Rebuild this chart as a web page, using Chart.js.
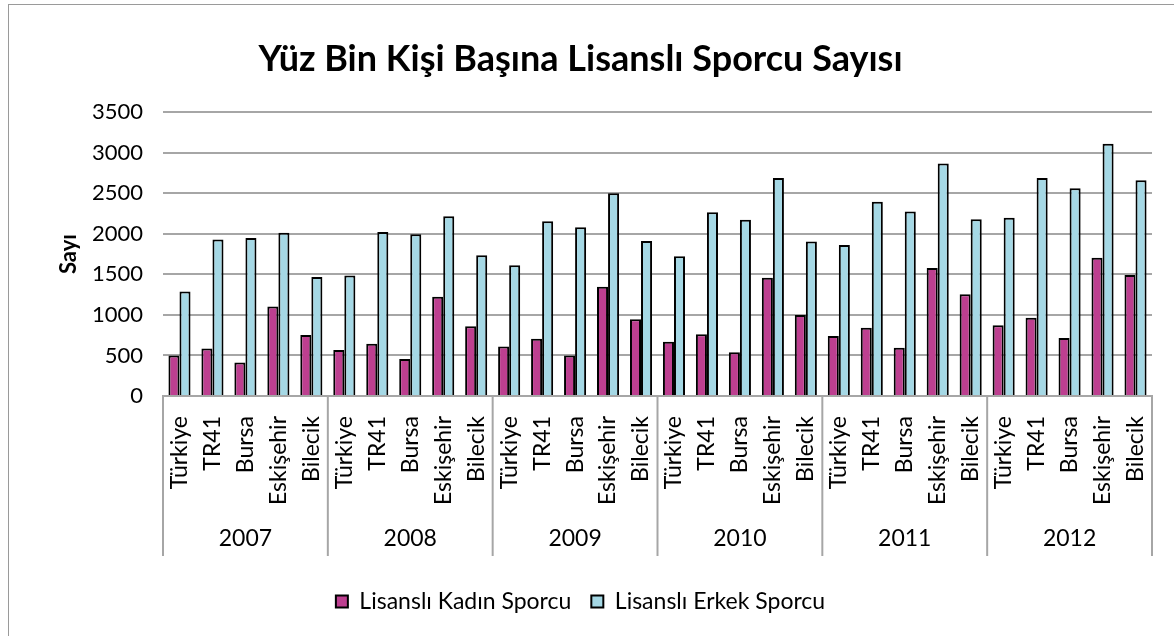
<!DOCTYPE html>
<html lang="tr">
<head>
<meta charset="UTF-8">
<title>Lisanslı Sporcu</title>
<style>
  body { margin: 0; background: #fff; overflow: hidden; }
  #kutu { position: absolute; left: 8px; top: 4px; width: 1300px; height: 700px; border: 1.5px solid #9a9a9a; }
  #sarici { position: absolute; left: 0; top: 0; width: 1148px; height: 632px; }
</style>
</head>
<body>
<div id="kutu"><div id="sarici"><canvas id="grafik"></canvas></div></div>
<script src="https://cdn.jsdelivr.net/npm/chart.js"></script>
<script>
// veriler
const yillar = ['2007', '2008', '2009', '2010', '2011', '2012'];
const bolgeler = ['Türkiye', 'TR41', 'Bursa', 'Eskişehir', 'Bilecik'];
const kadin = [
  500, 587, 414, 1103, 752,
  566, 644, 455, 1223, 860,
  612, 706, 500, 1347, 947,
  669, 761, 541, 1458, 1000,
  740, 843, 595, 1578, 1256,
  872, 966, 715, 1706, 1492
];
const erkek = [
  1288, 1929, 1950, 2012, 1467,
  1487, 2024, 1995, 2218, 1735,
  1611, 2156, 2082, 2499, 1913,
  1722, 2267, 2173, 2689, 1904,
  1863, 2396, 2276, 2867, 2181,
  2198, 2689, 2561, 3110, 2660
];
const yTicks = [0, 500, 1000, 1500, 2000, 2500, 3000, 3500];

const yazi = 'Lato, "Noto Sans", sans-serif';

let etiketler = [];
yillar.forEach(y => bolgeler.forEach(b => etiketler.push(b)));

// yil satiri ve ayirici cizgiler
const yilPlugin = {
  id: 'yilSatiri',
  afterDraw(chart) {
    const ctx = chart.ctx;
    const x = chart.scales.x;
    const alan = chart.chartArea;
    const n = bolgeler.length;
    const alt = alan.bottom + 160;
    ctx.save();
    ctx.strokeStyle = '#a6a6a6';
    ctx.lineWidth = 2;
    for (let g = 0; g <= yillar.length; g++) {
      let px;
      if (g === 0) px = alan.left;
      else if (g === yillar.length) px = alan.right;
      else px = (x.getPixelForValue(g * n - 1) + x.getPixelForValue(g * n)) / 2;
      ctx.beginPath();
      ctx.moveTo(px, alan.bottom);
      ctx.lineTo(px, alt);
      ctx.stroke();
    }
    ctx.fillStyle = '#000';
    ctx.font = '23px ' + yazi;
    ctx.textAlign = 'center';
    ctx.textBaseline = 'middle';
    yillar.forEach((y, g) => {
      const a = x.getPixelForValue(g * n);
      const b = x.getPixelForValue(g * n + n - 1);
      ctx.fillText(y, (a + b) / 2, alan.bottom + 143);
    });
    ctx.restore();
  }
};

new Chart(document.getElementById('grafik'), {
  type: 'bar',
  data: {
    labels: etiketler,
    datasets: [
      {
        label: 'Lisanslı Kadın Sporcu',
        data: kadin,
        backgroundColor: '#bd3f90',
        borderColor: '#000',
        borderWidth: 2,
        borderSkipped: 'bottom'
      },
      {
        label: 'Lisanslı Erkek Sporcu',
        data: erkek,
        backgroundColor: '#a5d8e5',
        borderColor: '#000',
        borderWidth: 2,
        borderSkipped: 'bottom'
      }
    ]
  },
  options: {
    responsive: true,
    maintainAspectRatio: false,
    animation: false,
    layout: { padding: { left: 0, right: 5, top: 0, bottom: 14 } },
    datasets: { bar: { categoryPercentage: 0.67, barPercentage: 1.0 } },
    plugins: {
      title: {
        display: true,
        text: 'Yüz Bin Kişi Başına Lisanslı Sporcu Sayısı',
        color: '#000',
        font: { family: yazi, size: 36, weight: 'bold' },
        padding: { top: 33, bottom: 31 }
      },
      legend: {
        position: 'bottom',
        labels: {
          color: '#000',
          font: { family: yazi, size: 23 },
          boxWidth: 12,
          boxHeight: 12,
          padding: 20
        }
      },
      tooltip: { enabled: false }
    },
    scales: {
      x: {
        grid: { display: false },
        border: { color: '#a6a6a6', width: 2 },
        ticks: {
          color: '#000',
          font: { family: yazi, size: 23 },
          minRotation: 90,
          maxRotation: 90,
          autoSkip: false,
          padding: 12
        },
        afterFit(scale) {
          scale.height = 174;
          scale.paddingLeft = 0;
          scale.paddingRight = 0;
        }
      },
      y: {
        min: 0,
        max: 3500,
        afterBuildTicks(scale) { scale.ticks = yTicks.map(v => ({ value: v })); },
        grid: { color: '#a6a6a6', lineWidth: 2, drawTicks: false },
        border: { display: false },
        ticks: {
          color: '#000',
          font: { family: yazi, size: 22 },
          padding: 20,
          callback: v => String(v)
        },
        title: {
          display: true,
          text: 'Sayı',
          color: '#000',
          font: { family: yazi, size: 22, weight: 'bold' },
          padding: { top: 47, bottom: 0 }
        },
        afterFit(scale) { scale.width = 154; }
      }
    }
  },
  plugins: [yilPlugin]
});
</script>
</body>
</html>
